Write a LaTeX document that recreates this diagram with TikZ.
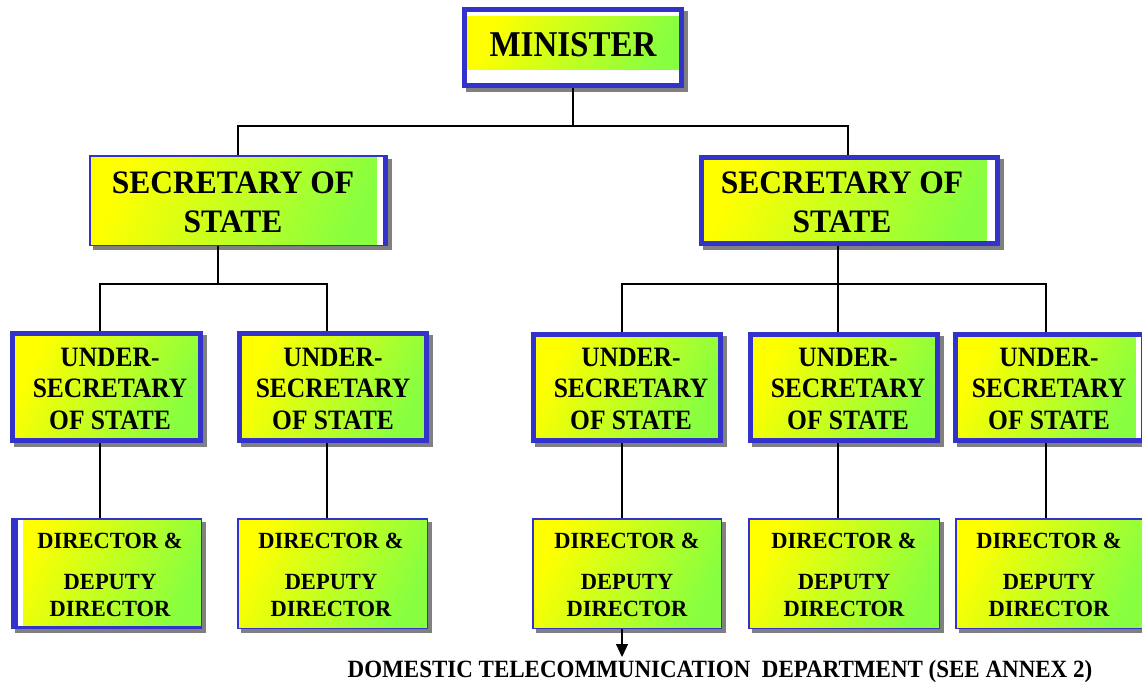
\documentclass[tikz,border=0pt]{standalone}
\usepackage{fontspec}
\setmainfont{Liberation Serif}
\usetikzlibrary{arrows.meta}

\definecolor{rim}{RGB}{51,51,204}
\definecolor{shadowgray}{RGB}{128,128,128}
\definecolor{gradyellow}{RGB}{255,255,0}
\definecolor{gradgreen}{RGB}{135,255,64}

\tikzset{
  boxarea/.style={rectangle, draw=none, inner sep=0pt, outer sep=0pt},
  grad/.style={top color=gradyellow, bottom color=gradgreen, shading angle=65},
  link/.style={draw=black, line width=1.1pt},
  txtmin/.style={font=\fontsize{33}{40}\selectfont\bfseries, align=center, inner sep=0pt, yscale=1.1},
  txtsec/.style={font=\fontsize{31.5}{37.5}\selectfont\bfseries, align=center, inner sep=0pt, yscale=1.04},
  txtund/.style={font=\fontsize{25.5}{28.6}\selectfont\bfseries, align=center, inner sep=0pt, yscale=1.1},
  txtdir/.style={font=\fontsize{22.5}{25.5}\selectfont\bfseries, align=center, inner sep=0pt, yscale=1.03},
  txtnote/.style={font=\fontsize{23}{28}\selectfont\bfseries, inner sep=0pt, yscale=1.08},
}

% name, left, top, right, bottom (outer edges), rim width
\newcommand\orgbox[6]{%
  \node[boxarea, minimum width={(#4)-(#2)}, minimum height={(#5)-(#3)}]
    (#1) at ({((#2)+(#4))/2},{((#3)+(#5))/2}) {};
  \fill[shadowgray] ({#2+4},{#3+4}) rectangle ({#4+4},{#5+4});
  \fill[white] (#2,#3) rectangle (#4,#5);
  \shade[grad] ({#2+#6},{#3+#6}) rectangle ({#4-#6},{#5-#6});
  \draw[rim, line width=#6pt] ({#2+#6/2},{#3+#6/2}) rectangle ({#4-#6/2},{#5-#6/2});
}

\begin{document}
\begin{tikzpicture}[x=1pt, y=-1pt]
\useasboundingbox (0,0) rectangle (1142,681);
\fill[white] (0,0) rectangle (1142,681);

% top level
\orgbox{min}{462}{7}{684}{88}{5}
\fill[white] (467,12) rectangle (679,16);
\fill[white] (467,70) rectangle (679,83);

% second level
\orgbox{sosL}{89}{155}{388}{246}{1.5}
\fill[rim] (383,155) rectangle (388,246);
\fill[white] (377,156.5) rectangle (383,244.5);
\orgbox{sosR}{699}{155}{1000}{246}{5}
\fill[white] (987,160) rectangle (995,241);

% third level
\orgbox{u1}{10}{331}{203}{443}{5}
\orgbox{u2}{237}{331}{429}{443}{5}
\orgbox{u3}{531}{332}{723}{443}{5}
\orgbox{u4}{748}{332}{940}{443}{5}
\orgbox{u5}{953}{332}{1146}{443}{5}
\fill[white] (1136,337) rectangle (1141,438);

% fourth level
\orgbox{d1}{11}{518}{202}{629}{1.5}
\fill[rim] (11,518) rectangle (18,629);
\fill[white] (18,519.5) rectangle (23,626);
\fill[rim] (11,626) rectangle (202,629);
\orgbox{d2}{237}{518}{428}{629}{1.5}
\orgbox{d3}{532}{518}{722}{629}{1.5}
\orgbox{d4}{748}{518}{940}{629}{1.5}
\orgbox{d5}{955}{518}{1146}{629}{1.5}

% labels
\node[txtmin] (tmin) at (573,45) {MINISTER};
\node[txtsec] (tsosL) at (233,202) {SECRETARY OF\\STATE};
\node[txtsec] (tsosR) at (842,202) {SECRETARY OF\\STATE};

\foreach \n/\x in {1/110, 2/333, 3/631, 4/848, 5/1049}
  \node[txtund] (tu\n) at (\x,388.5) {UNDER-\\SECRETARY\\OF STATE};

\foreach \n/\x in {1/110, 2/331, 3/627, 4/844, 5/1049}{
  \node[txtdir] (tda\n) at (\x,541) {DIRECTOR \&};
  \node[txtdir] (tdb\n) at (\x,595.5) {DEPUTY\\DIRECTOR};
}

\node[txtnote, anchor=base] (note) at (720,677)
  {DOMESTIC TELECOMMUNICATION\ \ DEPARTMENT (SEE ANNEX 2)};

% connectors
\coordinate (topbar) at (573,126);
\coordinate (midL) at (218,284);
\coordinate (midR) at (838,284);
\coordinate (arrowEnd) at (622,657);

\draw[link] (min.south) -- (topbar);
\draw[link] ([xshift=-0.5pt]sosL.north) |- (topbar) -| ([xshift=-1.5pt]sosR.north);

\draw[link] ([xshift=-20.5pt]sosL.south) -- (midL);
\draw[link] ([xshift=-6.5pt]u1.north) |- (midL) -| ([xshift=-6pt]u2.north);

\draw[link] ([xshift=-11.5pt]sosR.south) -- (midR);
\draw[link] ([xshift=-5pt]u3.north) |- (midR) -| ([xshift=-3.5pt]u5.north);
\draw[link] ([xshift=-6pt]u4.north) -- (midR);

\draw[link] ([xshift=-6.5pt]u1.south) -- ([xshift=-6.5pt]d1.north);
\draw[link] ([xshift=-6pt]u2.south) -- ([xshift=-5.5pt]d2.north);
\draw[link] ([xshift=-5pt]u3.south) -- ([xshift=-5pt]d3.north);
\draw[link] ([xshift=-6pt]u4.south) -- ([xshift=-6pt]d4.north);
\draw[link] ([xshift=-3.5pt]u5.south) -- ([xshift=-4.5pt]d5.north);

\draw[link, -{Triangle[length=13pt, width=12pt]}] ([xshift=-5pt]d3.south) -- (arrowEnd);
\end{tikzpicture}
\end{document}
